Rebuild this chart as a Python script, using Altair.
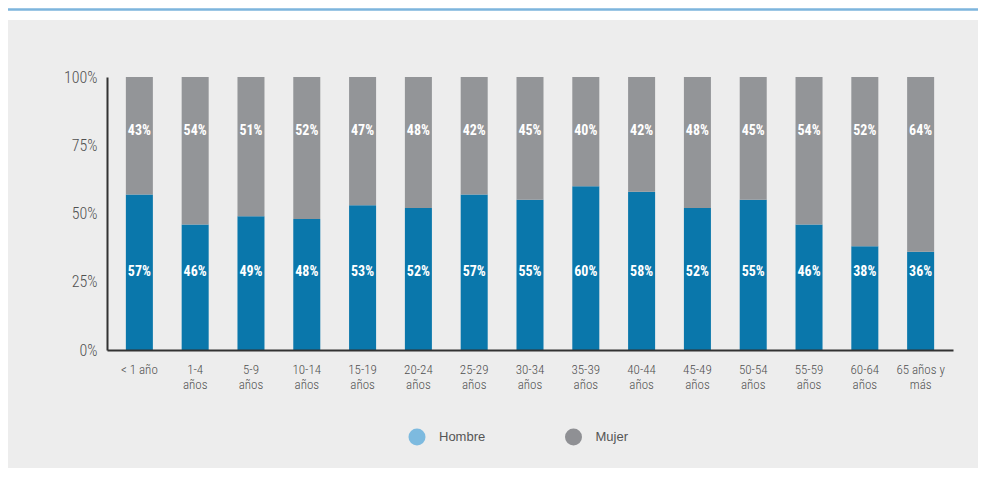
import altair as alt
import pandas as pd

# ---- data ----
categorias = ["< 1 año", "1-4\naños", "5-9\naños", "10-14\naños", "15-19\naños",
              "20-24\naños", "25-29\naños", "30-34\naños", "35-39\naños", "40-44\naños",
              "45-49\naños", "50-54\naños", "55-59\naños", "60-64\naños", "65 años y\nmás"]
hombre = [57, 46, 49, 48, 53, 52, 57, 55, 60, 58, 52, 55, 46, 38, 36]
mujer = [43, 54, 51, 52, 47, 48, 42, 45, 40, 42, 48, 45, 54, 52, 64]
series = ["Hombre", "Mujer"]
y_ticks = [0, 25, 50, 75, 100]

# ---- styles ----
bar_colors = ["#0a77ab", "#939598"]
legend_colors = ["#7dbadf", "#8f9094"]
NARROW = "Roboto Condensed, Roboto, Liberation Sans, sans-serif"
REG = "Liberation Sans, Arial, sans-serif"

rows = []
for c, h, m in zip(categorias, hombre, mujer):
    rows.append({"cat": c, "serie": "Hombre", "y0": 0, "y1": h, "label": f"{h}%"})
    rows.append({"cat": c, "serie": "Mujer", "y0": h, "y1": 100, "label": f"{m}%"})
df = pd.DataFrame(rows)

x_enc = alt.X(
    "cat:N", sort=categorias,
    scale=alt.Scale(paddingInner=0.516, paddingOuter=0.338),
    axis=alt.Axis(title=None, ticks=False, labelAngle=0, labelFont=NARROW,
                  labelFontSize=13, labelFontWeight=300, labelColor="#505050",
                  labelPadding=13, labelLineHeight=15, domainColor="#333333",
                  domainWidth=2, labelExpr="split(datum.label, '\\n')", zindex=1),
)
y_scale = alt.Scale(domain=[0, 100], nice=False)
y_axis = alt.Axis(title=None, ticks=False, grid=False, values=y_ticks,
                  labelExpr="datum.value + '%'", labelFont=NARROW, labelFontSize=16,
                  labelFontWeight=300, labelColor="#505050", labelPadding=10,
                  domainColor="#333333", domainWidth=2, zindex=1)

one = pd.DataFrame({"k": [0]})
bg = alt.Chart(one).mark_rect(color="#ededed").encode(
    x=alt.value(-99), x2=alt.value(871), y=alt.value(-57), y2=alt.value(391))
topline = alt.Chart(one).mark_rule(color="#7db5dd", strokeWidth=2.5).encode(
    x=alt.value(-99), x2=alt.value(871), y=alt.value(-67.5))

bars = alt.Chart(df).mark_bar().encode(
    x=x_enc,
    y=alt.Y("y1:Q", scale=y_scale, axis=y_axis),
    y2="y0:Q",
    color=alt.Color("serie:N", scale=alt.Scale(domain=series, range=bar_colors), legend=None),
)

txt_h = alt.Chart(df).transform_filter("datum.serie == 'Hombre'").mark_text(
    color="white", font=NARROW, fontWeight="bold", fontSize=14, baseline="middle"
).encode(x=alt.X("cat:N", sort=categorias), y=alt.datum(28.4), text="label:N")

txt_m = alt.Chart(df).transform_filter("datum.serie == 'Mujer'").mark_text(
    color="white", font=NARROW, fontWeight="bold", fontSize=14, baseline="middle"
).encode(x=alt.X("cat:N", sort=categorias), y=alt.datum(80.4), text="label:N")

leg_df = pd.DataFrame({"sexo": series})
leg = alt.Chart(leg_df).mark_circle(opacity=0).encode(
    fill=alt.Fill("sexo:N", scale=alt.Scale(domain=series, range=legend_colors),
                  legend=alt.Legend(title=None, orient="none", legendX=301.5, legendY=351.5,
                                    direction="horizontal", symbolType="circle",
                                    symbolSize=289, symbolOpacity=1, symbolStrokeWidth=0,
                                    labelFont=REG, labelFontSize=13, labelColor="#555555",
                                    labelOffset=13.5, columnPadding=79.5, padding=0))
)

chart = alt.layer(bg, topline, bars, txt_h, txt_m, leg).resolve_legend(
    color="independent", fill="independent"
).properties(
    width=846, height=273,
    padding={"left": 99, "top": 69, "right": 25, "bottom": 118},
    autosize=alt.AutoSizeParams(type="none"),
    background="white",
).configure_view(stroke=None)

chart.save("out.html", embed_options={"renderer": "svg", "actions": False})
